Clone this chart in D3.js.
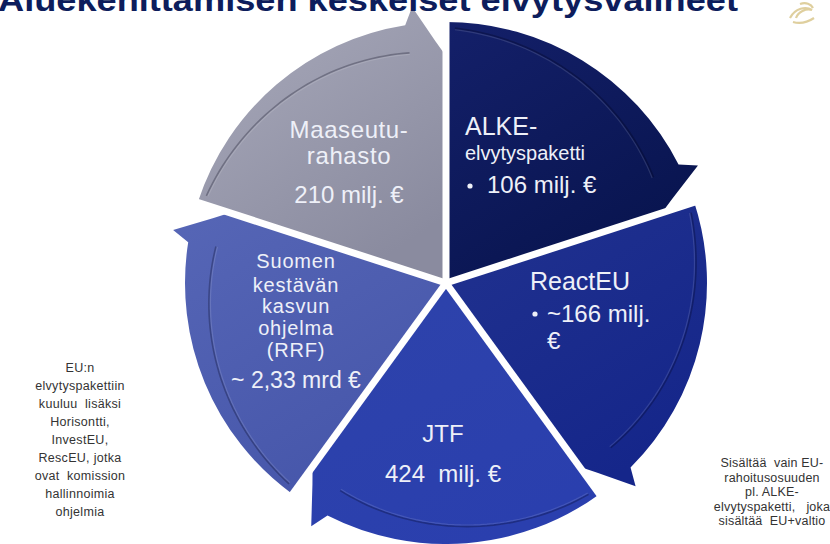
<!DOCTYPE html>
<html><head><meta charset="utf-8">
<script src="https://cdn.jsdelivr.net/npm/d3@7"></script>
<style>
html,body{margin:0;padding:0;background:#fff;}
svg{display:block;font-family:"Liberation Sans",Arial,sans-serif;}
</style></head>
<body><svg id="c" width="830" height="544"></svg>
<script>
// ---- data ----
const titleText = "Aluekehittämisen keskeiset elvytysvälineet";
const categories = ["Maaseuturahasto", "ALKE-elvytyspaketti", "ReactEU", "JTF", "Suomen kestävän kasvun ohjelma (RRF)"];
const amountsMEur = [210, 106, 166, 424, 2330];
const cycleWeights = [1, 1, 1, 1, 1]; // cycle diagram: equal segments
const labelLines = [
  ["Maaseutu-", "rahasto", "210 milj. €"],
  ["ALKE-", "elvytyspaketti", "106 milj. €"],
  ["ReactEU", "~166 milj.", "€"],
  ["JTF", "424  milj. €"],
  ["Suomen", "kestävän", "kasvun", "ohjelma", "(RRF)", "~ 2,33 mrd €"]
];
const leftNote = ["EU:n", "elvytyspakettiin", "kuuluu  lisäksi", "Horisontti,", "InvestEU,", "RescEU, jotka", "ovat  komission", "hallinnoimia", "ohjelmia"];
const rightNote = ["Sisältää  vain EU-", "rahoitusosuuden", "pl. ALKE-", "elvytyspaketti,   joka", "sisältää  EU+valtio"];

// ---- layout / style ----
const svg = d3.select("#c");
const cx = 446, cy = 283, R = 261;
const deg = Math.PI / 180;
const colors = [
  ["#a9aabb", "#8a8b9f"],
  ["#14206a", "#08144e"],
  ["#21328f", "#15268a"],
  ["#2e43aa", "#2a3fae"],
  ["#5666b6", "#4656aa"]
];
const defs = svg.append("defs");
colors.forEach((c, i) => {
  const g = defs.append("linearGradient").attr("id", "g" + i)
    .attr("x1", "0").attr("y1", "0").attr("x2", "0.6").attr("y2", "1");
  g.append("stop").attr("offset", "0").attr("stop-color", c[0]);
  g.append("stop").attr("offset", "1").attr("stop-color", c[1]);
});

const pie = d3.pie().sort(null).value(d => d)
  .startAngle(-72 * deg).endAngle(288 * deg);
const arcs = pie(cycleWeights);
const polar = (a, r) => [cx + r * Math.sin(a), cy - r * Math.cos(a)];

function segPath(a0, a1) {
  const p = d3.path();
  const aH = a1 - 9 * deg, aF = a1 - 7 * deg, aT = a1 - 2.5 * deg;
  p.moveTo(cx, cy);
  p.lineTo(...polar(a0, R));
  p.arc(cx, cy, R, a0 - Math.PI / 2, aH - Math.PI / 2);
  p.lineTo(...polar(aF, R + 17));
  p.lineTo(...polar(aT, R - 19));
  p.lineTo(...polar(a1, R - 34));
  p.closePath();
  return p.toString();
}
function groovePath(a0, a1, off) {
  const aH = a1 - 9 * deg;
  const pts = d3.range(0, 41).map(k => {
    const t = k / 40;
    const a = a0 + 2 * deg + (aH - a0 - 2 * deg) * t;
    return polar(a, R - 6 - 22 * t + off);
  });
  return d3.line()(pts);
}

const g = svg.append("g");
arcs.forEach((d, i) => {
  g.append("path").attr("d", segPath(d.startAngle, d.endAngle))
    .attr("fill", `url(#g${i})`);
  g.append("path").attr("d", groovePath(d.startAngle, d.endAngle, 0))
    .attr("fill", "none").attr("stroke", "rgba(0,0,20,0.28)").attr("stroke-width", 1.6);
  g.append("path").attr("d", groovePath(d.startAngle, d.endAngle, -1.6))
    .attr("fill", "none").attr("stroke", "rgba(255,255,255,0.12)").attr("stroke-width", 1.2);
});
// white gaps between segments
arcs.forEach(d => {
  const [x, y] = polar(d.startAngle, R + 6);
  g.append("line").attr("x1", cx).attr("y1", cy).attr("x2", x).attr("y2", y)
    .attr("stroke", "#fff").attr("stroke-width", 7);
});

// ---- labels ----
const txtFill = "#eef0f8";
function lines(x, ys, arr, sizes, anchor, extra) {
  arr.forEach((t, k) => {
    const el = svg.append("text").attr("x", x).attr("y", ys[k])
      .attr("text-anchor", anchor).attr("fill", txtFill)
      .attr("font-size", sizes[k]).style("white-space", "pre").text(t);
    if (extra && extra[k]) el.attr("letter-spacing", extra[k]);
  });
}
// Maaseutu
lines(349, [138, 164, 203], labelLines[0], [24, 24, 24], "middle", [0.6, 0.6, 0]);
// ALKE
lines(465, [135, 160], labelLines[1].slice(0, 2), [25, 20], "start");
svg.append("circle").attr("cx", 470).attr("cy", 186).attr("r", 2.6).attr("fill", txtFill);
lines(487, [193], [labelLines[1][2]], [24], "start");
// ReactEU
lines(530, [290], [labelLines[2][0]], [25], "start");
svg.append("circle").attr("cx", 535).attr("cy", 314).attr("r", 2.6).attr("fill", txtFill);
lines(547, [322, 349], labelLines[2].slice(1), [24, 24], "start");
// JTF
lines(443, [442, 482], labelLines[3], [24, 24], "middle");
// RRF
lines(296, [268, 292, 313, 335, 357, 388], labelLines[4], [20, 20, 20, 20, 20, 23], "middle", [0.8, 0.8, 0.8, 0.8, 0.8, 0]);

// ---- side notes ----
leftNote.forEach((t, k) => {
  svg.append("text").attr("x", 80).attr("y", 372 + k * 18).attr("text-anchor", "middle")
    .attr("font-size", 12.5).attr("fill", "#333").attr("letter-spacing", 0.3)
    .style("white-space", "pre").text(t);
});
rightNote.forEach((t, k) => {
  svg.append("text").attr("x", 772).attr("y", 467 + k * 14.5).attr("text-anchor", "middle")
    .attr("font-size", 12.5).attr("fill", "#333").attr("letter-spacing", 0.2)
    .style("white-space", "pre").text(t);
});

// ---- title (cut at top, as in the reference) ----
svg.append("text").attr("x", -2).attr("y", 11).attr("font-size", 32).attr("font-weight", "bold")
  .attr("fill", "#0d1d5c").attr("textLength", 740).attr("lengthAdjust", "spacingAndGlyphs")
  .text(titleText);

// ---- small logo ----
const lg = svg.append("g").attr("fill", "none").attr("stroke", "#d8c486").attr("stroke-width", 2.2).attr("opacity", 0.8);
lg.append("path").attr("d", "M790,18 C795,8 806,6 812,10 C806,8 798,12 796,18");
lg.append("path").attr("d", "M793,22 C800,24 808,22 814,18");
lg.append("path").attr("d", "M800,4 C806,2 811,4 813,8");
</script></body></html>
